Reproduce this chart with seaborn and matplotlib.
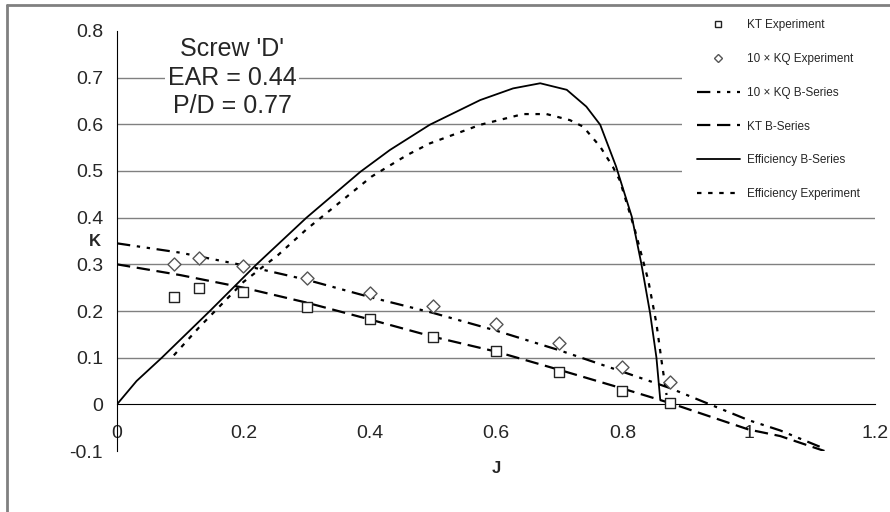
import numpy as np
import pandas as pd
import matplotlib
matplotlib.use("Agg")
import matplotlib.pyplot as plt
import seaborn as sns
from matplotlib.lines import Line2D
from matplotlib.patches import Rectangle

# -----------------------------------------------------
# DATA
# -----------------------------------------------------
j_exp = [0.09, 0.13, 0.20, 0.30, 0.40, 0.50, 0.60, 0.70, 0.80, 0.875]
kt_exp = [0.229, 0.250, 0.240, 0.209, 0.182, 0.145, 0.115, 0.070, 0.029, 0.002]
kq10_exp = [0.300, 0.314, 0.296, 0.270, 0.239, 0.211, 0.172, 0.131, 0.081, 0.047]

j_bs = [0.0, 0.1, 0.2, 0.3, 0.4, 0.5, 0.6, 0.7, 0.8, 0.875, 1.0, 1.05, 1.12]
kt_bs = [0.300, 0.277, 0.250, 0.218, 0.182, 0.145, 0.113, 0.074, 0.034, 0.003, -0.054, -0.068, -0.100]
kq10_bs = [0.345, 0.325, 0.298, 0.267, 0.230, 0.196, 0.158, 0.116, 0.070, 0.035, -0.034, -0.056, -0.095]

j_eff_bs = [0.0, 0.031, 0.071, 0.147, 0.221, 0.30, 0.385, 0.432, 0.495, 0.575, 0.627,
            0.67, 0.712, 0.743, 0.765, 0.79, 0.815, 0.83, 0.844, 0.854, 0.86]
eff_bs = [0.0, 0.05, 0.10, 0.20, 0.30, 0.40, 0.498, 0.545, 0.599, 0.652, 0.677,
          0.688, 0.674, 0.638, 0.599, 0.51, 0.402, 0.302, 0.195, 0.10, 0.01]

j_eff_exp = [0.09, 0.13, 0.20, 0.255, 0.30, 0.403, 0.459, 0.495, 0.575, 0.643, 0.68,
             0.717, 0.738, 0.765, 0.785, 0.796, 0.82, 0.841, 0.854, 0.862, 0.87]
eff_exp = [0.105, 0.165, 0.262, 0.320, 0.375, 0.488, 0.534, 0.559, 0.599, 0.622, 0.622,
           0.609, 0.595, 0.552, 0.509, 0.48, 0.373, 0.266, 0.173, 0.094, 0.02]

labels = ["KT Experiment", "10 \u00d7 KQ Experiment", "10 \u00d7 KQ B-Series",
          "KT B-Series", "Efficiency B-Series", "Efficiency Experiment"]

# -----------------------------------------------------
# STYLE
# -----------------------------------------------------
sns.set_style("white")
plt.rcParams["font.family"] = ["Liberation Sans", "DejaVu Sans"]

W, H = 890, 512
fig = plt.figure(figsize=(W / 100, H / 100), dpi=100)
ax = fig.add_axes([117 / W, 1 - 451 / H, (875 - 117) / W, (451 - 31) / H])

# -----------------------------------------------------
# CURVES
# -----------------------------------------------------
sns.lineplot(x=j_bs, y=kq10_bs, ax=ax, color="black", linewidth=1.6,
             linestyle=(0, (6, 3, 1.5, 3, 1.5, 3)), sort=False, estimator=None)
sns.lineplot(x=j_bs, y=kt_bs, ax=ax, color="black", linewidth=1.6,
             linestyle=(0, (6, 3)), sort=False, estimator=None)
sns.lineplot(x=j_eff_bs, y=eff_bs, ax=ax, color="black", linewidth=1.3,
             sort=False, estimator=None)
sns.lineplot(x=j_eff_exp, y=eff_exp, ax=ax, color="black", linewidth=1.6,
             linestyle=(0, (2, 3)), sort=False, estimator=None)

sns.scatterplot(x=j_exp, y=kt_exp, ax=ax, marker="s", s=62, facecolor="white",
                edgecolor="#222222", linewidth=1.0, zorder=4)
sns.scatterplot(x=j_exp, y=kq10_exp, ax=ax, marker="D", s=44, facecolor="white",
                edgecolor="#555555", linewidth=1.0, zorder=4)

# -----------------------------------------------------
# AXES
# -----------------------------------------------------
ax.set_xlim(0, 1.2)
ax.set_ylim(-0.1, 0.8)
ax.set_xticks(np.arange(0, 1.21, 0.2))
ax.set_yticks(np.arange(-0.1, 0.81, 0.1))
ax.set_xticklabels(["0", "0.2", "0.4", "0.6", "0.8", "1", "1.2"])
ax.set_yticklabels(["-0.1", "0", "0.1", "0.2", "0.3", "0.4", "0.5", "0.6", "0.7", "0.8"])
ax.tick_params(axis="both", labelsize=14, length=5, width=1, color="black", direction="out")
ax.tick_params(axis="x", pad=10)
ax.tick_params(axis="y", pad=5)

for s in ["top", "right"]:
    ax.spines[s].set_visible(False)
ax.spines["bottom"].set_position(("data", 0))
ax.spines["bottom"].set_color("black")
ax.spines["left"].set_color("black")

ax.set_axisbelow(True)
for v in np.arange(0.1, 0.75, 0.1):
    ax.axhline(v, color="#808080", linewidth=1.0, zorder=0.5)

ax.text(-0.035, 0.35, "K", fontsize=12, fontweight="bold", ha="center", va="center")
ax.text(0.6, -0.138, "J", fontsize=12, fontweight="bold", ha="center", va="center")

# -----------------------------------------------------
# ANNOTATION
# -----------------------------------------------------
ax.text(0.182, 0.70, "Screw 'D'\nEAR = 0.44\nP/D = 0.77", fontsize=18,
        ha="center", va="center", linespacing=1.25, zorder=3,
        bbox=dict(facecolor="white", edgecolor="none", pad=2))

# white area behind legend (hides grid lines)
ax.add_patch(Rectangle((682 / W, 1 - 205 / H), (W - 682) / W, 200 / H,
                       transform=fig.transFigure, facecolor="white",
                       edgecolor="none", zorder=1, clip_on=False))

# -----------------------------------------------------
# LEGEND
# -----------------------------------------------------
handles = [
    Line2D([], [], marker="s", linestyle="none", markersize=5, markerfacecolor="white",
           markeredgecolor="#222222", markeredgewidth=1.0),
    Line2D([], [], marker="D", linestyle="none", markersize=4, markerfacecolor="white",
           markeredgecolor="#555555", markeredgewidth=1.0),
    Line2D([], [], color="black", linewidth=1.6, linestyle=(0, (6, 3, 1.5, 3, 1.5, 3))),
    Line2D([], [], color="black", linewidth=1.6, linestyle=(0, (6, 3))),
    Line2D([], [], color="black", linewidth=1.3),
    Line2D([], [], color="black", linewidth=1.6, linestyle=(0, (2, 3))),
]
leg = fig.legend(handles, labels, loc="upper left", bbox_to_anchor=(697 / W, 1 - 19 / H),
                 frameon=False, fontsize=8.5, handlelength=3.6, handletextpad=0.6,
                 labelspacing=1.85, borderpad=0, borderaxespad=0)

# outer chart border (left and top only visible)
fig.add_artist(Line2D([6.5 / W, 6.5 / W], [0, 1 - 4.5 / H], transform=fig.transFigure,
                      color="#808080", linewidth=2))
fig.add_artist(Line2D([6.5 / W, 1], [1 - 4.5 / H, 1 - 4.5 / H], transform=fig.transFigure,
                      color="#808080", linewidth=2))

fig.savefig("out.png", dpi=100)
